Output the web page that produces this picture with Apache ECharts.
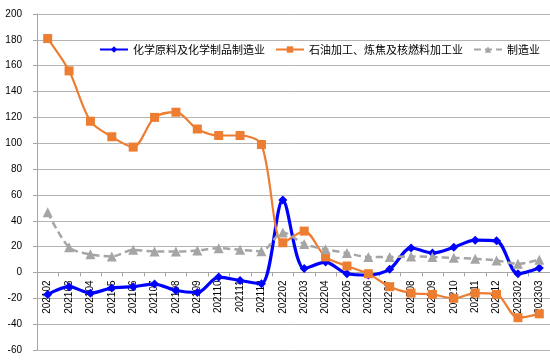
<!DOCTYPE html>
<html><head><meta charset="utf-8">
<script src="https://cdn.jsdelivr.net/npm/echarts@6/dist/echarts.min.js"></script>
<style>html,body{margin:0;padding:0;background:#fff}#c{width:550px;height:363px}</style>
</head><body><div id="c"></div>
<script>
const categories = ['202102','202103','202104','202105','202106','202107','202108','202109','202110','202111','202112',
  '202202','202203','202204','202205','202206','202207','202208','202209','202210','202211','202212','202302','202303'];
const chemical = [-17,-11,-16,-12,-11,-9,-14,-15.5,-3.6,-6.2,-8.8,56,3,8,-1,-2,2.5,19,15,19.5,25,24.5,-1,3.5];
const petroleum = [181,156,117,105,97,120,124,111,106,106,99,23,32,12,5,-1,-11,-16,-17,-20,-16,-17,-35,-32];
const manufacturing = [46.5,19.5,14,12.4,17.5,16.2,16.2,17,18.8,17.5,16.5,31,22,18,15,12,12,12.4,12,11.3,10.6,9.3,6.7,9.8];
const seriesNames = ['化学原料及化学制品制造业','石油加工、炼焦及核燃料加工业','制造业'];
const yTicks = {min:-60, max:200, interval:20};

const chart = echarts.init(document.getElementById('c'));
const font = 'Liberation Sans, Arial, sans-serif';
const gridTop = 14, gridBottom = 13, H = 363;
const plotH = H - gridTop - gridBottom;
const zeroOffset = -plotH * (0 - yTicks.min) / (yTicks.max - yTicks.min);
chart.setOption({
  animation:false,
  grid:{left:37,right:0,top:gridTop,bottom:gridBottom,containLabel:false,outerBoundsMode:'none'},
  legend:{
    left:94, top:39, itemWidth:28, itemHeight:8, itemGap:10,
    textStyle:{fontSize:11, color:'#000', fontFamily:'Noto Sans CJK SC'},
    data:seriesNames
  },
  xAxis:{
    type:'category', data:categories, boundaryGap:true, position:'bottom', offset:zeroOffset,
    axisLine:{onZero:false, lineStyle:{color:'#a6a6a6', width:1}},
    axisTick:{show:true, interval:0, length:4, lineStyle:{color:'#a6a6a6'}},
    axisLabel:{interval:0, rotate:90, fontSize:10, color:'#000', fontFamily:font, margin:8},
    splitLine:{show:false}
  },
  yAxis:{
    type:'value', min:yTicks.min, max:yTicks.max, interval:yTicks.interval,
    axisLine:{show:true, lineStyle:{color:'#a6a6a6'}},
    axisTick:{show:true, length:4, lineStyle:{color:'#a6a6a6'}},
    axisLabel:{fontSize:10, color:'#000', fontFamily:font, margin:15},
    splitLine:{lineStyle:{color:'#b4b4b4', width:1}}
  },
  series:[
    {name:seriesNames[0], type:'line', data:chemical, smooth:0.3,
     symbol:'diamond', symbolSize:9,
     lineStyle:{color:'#0000ff', width:3.2}, itemStyle:{color:'#0000ff'}},
    {name:seriesNames[1], type:'line', data:petroleum, smooth:0.3,
     symbol:'rect', symbolSize:9,
     lineStyle:{color:'#ed7d31', width:2.2}, itemStyle:{color:'#ed7d31'}},
    {name:seriesNames[2], type:'line', data:manufacturing, smooth:0.3,
     symbol:'triangle', symbolSize:10,
     lineStyle:{color:'#a5a5a5', width:2.5, type:[7,4]}, itemStyle:{color:'#a5a5a5'}}
  ]
});
</script></body></html>
